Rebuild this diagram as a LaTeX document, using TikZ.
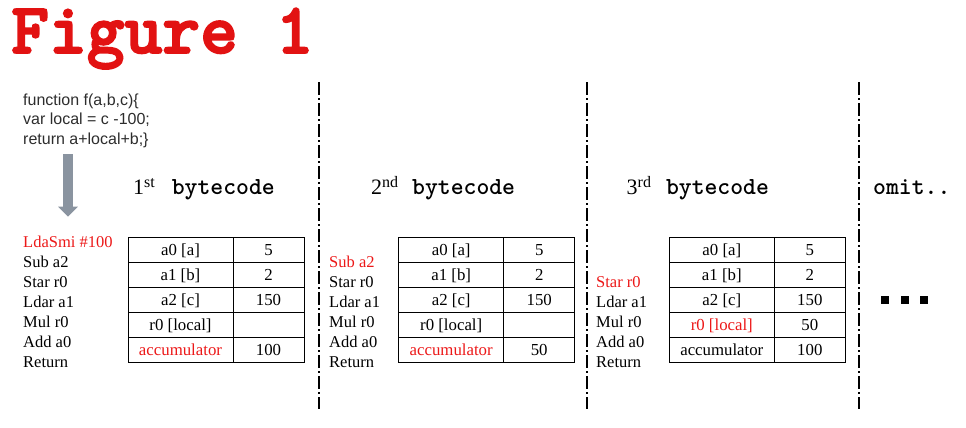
\documentclass[tikz,border=0pt]{standalone}
\usepackage{fontspec}
\setmainfont{Liberation Serif}
\setsansfont{Liberation Sans}
\newfontfamily\titlefont{lmmonolt10-bold.otf}[FakeBold=2.5]
\newfontfamily\headfont{lmmonolt10-bold.otf}
\usepackage{tikz}
\usetikzlibrary{arrows.meta}

\definecolor{figred}{RGB}{226,18,18}
\definecolor{textred}{RGB}{236,24,24}
\definecolor{arrowgray}{RGB}{138,148,160}
\definecolor{codegray}{RGB}{45,45,45}

\begin{document}
\begin{tikzpicture}[x=1pt, y=-1pt,
    sepline/.style={line width=2pt, dash pattern=on 13pt off 3pt on 2pt off 3pt},
    instr/.style={anchor=base west, inner sep=0pt, font=\fontsize{16.5}{20}\selectfont},
    codeline/.style={anchor=base west, inner sep=0pt, text=codegray, font=\sffamily\fontsize{16}{19}\selectfont},
    head/.style={anchor=base west, inner sep=0pt, font=\fontsize{22}{26}\selectfont},
    namecell/.style={draw, line width=0.8pt, minimum width=105pt, minimum height=25pt, inner sep=0pt,
      text height=12pt, text depth=0pt, font=\fontsize{16.8}{20}\selectfont},
    valcell/.style={namecell, minimum width=71pt}]

  \useasboundingbox (0,0) rectangle (966,428);

  % title
  \node[anchor=base west, inner sep=0pt, text height=43pt, text=figred, font=\titlefont\fontsize{72}{72}\selectfont] (title) at (11,53) {Figure 1};

  % source of f
  \foreach \line [count=\i] in {{function f(a,b,c)\{}, {var local = c -100;}, {return a+local+b;\}}}
    \node[codeline] (src\i) at (23, 85.5+19.5*\i) {\line};

  \coordinate (arrtop) at (68,154);
  \coordinate (arrtip) at (68,216.7);
  \draw[arrowgray, line width=9.5pt, -{Triangle[width=19pt, length=10pt]}] (arrtop) -- (arrtip);

  % separators
  \foreach \sx in {319, 587, 859}
    \draw[sepline] (\sx,82) -- (\sx,409);

  % headings
  \node[head] (h1) at (133,194) {1\raisebox{7pt}{\fontsize{16}{16}\selectfont st}\hspace{17pt}{\headfont\fontsize{24.5}{26}\selectfont bytecode}};
  \node[head] (h2) at (371,194) {2\raisebox{7pt}{\fontsize{16}{16}\selectfont nd}\hspace{14pt}{\headfont\fontsize{24.5}{26}\selectfont bytecode}};
  \node[head] (h3) at (626.5,194) {3\raisebox{7pt}{\fontsize{16}{16}\selectfont rd}\hspace{15pt}{\headfont\fontsize{24.5}{26}\selectfont bytecode}};
  \node[anchor=base west, inner sep=0pt, font=\headfont\fontsize{24.5}{26}\selectfont] (omit) at (873,194) {omit..};

  % bytecode lists
  \foreach \ins [count=\i] in {{\color{textred}LdaSmi \#100}, Sub a2, Star r0, Ldar a1, Mul r0, Add a0, Return}
    \node[instr] (s1i\i) at (23, 227+20*\i) {\ins};
  \foreach \ins [count=\i] in {{\color{textred}Sub a2}, Star r0, Ldar a1, Mul r0, Add a0, Return}
    \node[instr] (s2i\i) at (329, 247+20*\i) {\ins};
  \foreach \ins [count=\i] in {{\color{textred}Star r0}, Ldar a1, Mul r0, Add a0, Return}
    \node[instr] (s3i\i) at (596, 267+20*\i) {\ins};

  % register tables
  \foreach \t/\tx/\rc/\rv/\ac/\av in {1/128/black//textred/100, 2/398.7/black//textred/50, 3/669.3/textred/50/black/100} {
    \foreach \nm/\vl [count=\r] in {{a0 [a]}/5, {a1 [b]}/2, {a2 [c]}/150} {
      \node[namecell] (t\t-n\r) at (\tx+52.5, 224.8+25*\r) {\nm};
      \node[valcell] (t\t-v\r) at (\tx+140.5, 224.8+25*\r) {\vl};
    }
    \node[namecell, text=\rc] (t\t-n4) at (\tx+52.5, 324.8) {r0 [local]};
    \node[valcell] (t\t-v4) at (\tx+140.5, 324.8) {\rv};
    \node[namecell, text=\ac] (t\t-n5) at (\tx+52.5, 349.8) {accumulator};
    \node[valcell] (t\t-v5) at (\tx+140.5, 349.8) {\av};
  }

  % more steps
  \foreach \k in {0,1,2}
    \fill (881+19.5*\k, 295.5) rectangle ++(8,8);
\end{tikzpicture}
\end{document}
